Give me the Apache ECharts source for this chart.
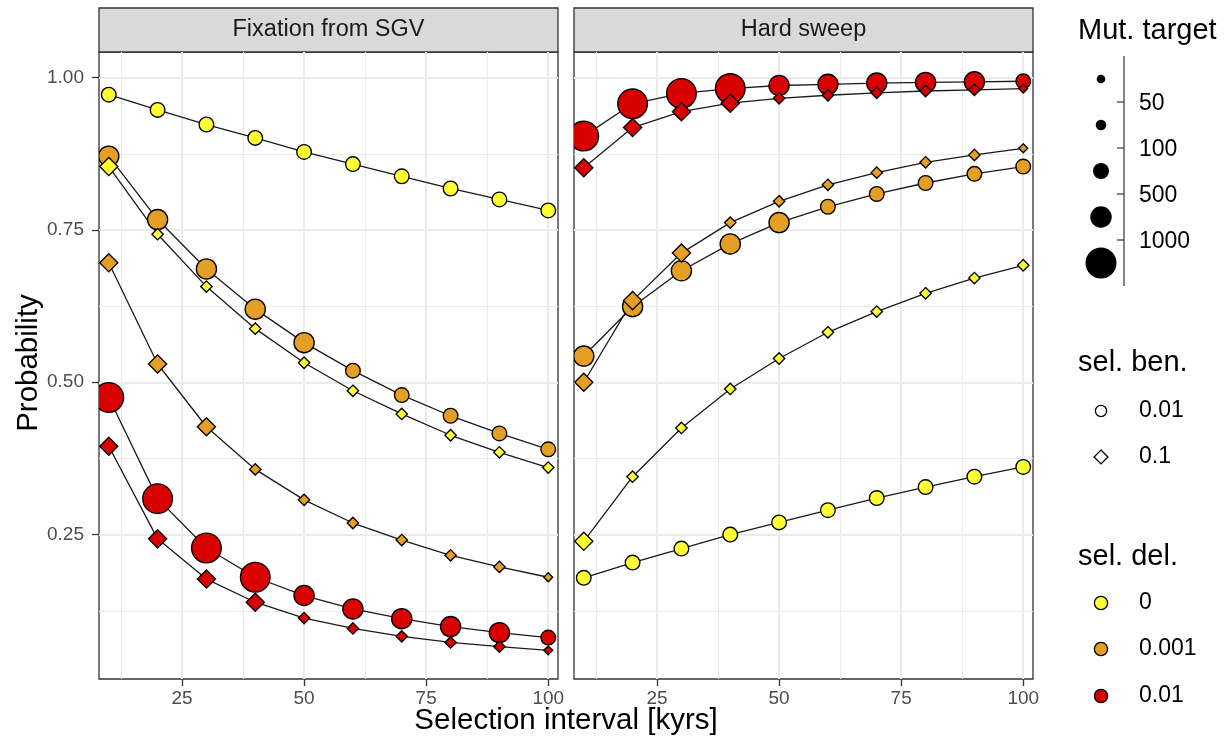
<!DOCTYPE html>
<html>
<head>
<meta charset="utf-8">
<script src="https://cdn.jsdelivr.net/npm/echarts@6/dist/echarts.min.js"></script>
<style>
html, body { margin: 0; padding: 0; background: #fff; }
#main { width: 1225px; height: 747px; }
</style>
</head>
<body>
<div id="main"></div>
<script>
var interval = [10, 20, 30, 40, 50, 60, 70, 80, 90, 100];

// Fixation from SGV
var sgv_del0_ben001   = [0.972, 0.947, 0.923, 0.901, 0.878, 0.858, 0.838, 0.818, 0.800, 0.782];
var sgv_del0_ben01    = [0.854, 0.743, 0.657, 0.588, 0.532, 0.486, 0.448, 0.413, 0.385, 0.360];
var sgv_del001_ben001 = [0.871, 0.767, 0.686, 0.620, 0.565, 0.519, 0.479, 0.445, 0.416, 0.390];
var sgv_del001_ben01  = [0.696, 0.530, 0.427, 0.357, 0.307, 0.269, 0.241, 0.216, 0.197, 0.180];
var sgv_del01_ben001  = [0.475, 0.309, 0.228, 0.180, 0.150, 0.128, 0.112, 0.099, 0.089, 0.081];
var sgv_del01_ben01   = [0.395, 0.243, 0.177, 0.139, 0.113, 0.096, 0.083, 0.073, 0.066, 0.060];

// Hard sweep
var hard_del0_ben001   = [0.179, 0.204, 0.227, 0.250, 0.270, 0.290, 0.310, 0.328, 0.345, 0.361];
var hard_del0_ben01    = [0.239, 0.345, 0.425, 0.489, 0.539, 0.582, 0.616, 0.646, 0.671, 0.692];
var hard_del001_ben001 = [0.543, 0.624, 0.683, 0.727, 0.762, 0.788, 0.809, 0.827, 0.842, 0.854];
var hard_del001_ben01  = [0.500, 0.634, 0.712, 0.762, 0.797, 0.824, 0.844, 0.861, 0.873, 0.884];
var hard_del01_ben001  = [0.904, 0.957, 0.974, 0.982, 0.987, 0.989, 0.991, 0.992, 0.993, 0.994];
var hard_del01_ben01   = [0.852, 0.918, 0.944, 0.958, 0.966, 0.971, 0.975, 0.978, 0.980, 0.982];

// mutational target bin of each point: 1 <50, 2 50-100, 3 100-500, 4 500-1000, 5 >1000
var target_del0_ben001   = [3, 3, 3, 3, 3, 3, 3, 3, 3, 3];
var target_del0_ben01    = [3, 2, 2, 2, 2, 2, 2, 2, 2, 2];
var target_del001_ben001 = [4, 4, 4, 4, 4, 3, 3, 3, 3, 3];
var target_del001_ben01  = [3, 3, 3, 2, 2, 2, 2, 2, 2, 1];
var target_del01_ben001  = [5, 5, 5, 5, 4, 4, 4, 4, 4, 3];
var target_del01_ben01   = [3, 3, 3, 3, 2, 2, 2, 2, 2, 1];

var panelNames = ['Fixation from SGV', 'Hard sweep'];
var targetLabels = ['50', '100', '500', '1000'];
var benLabels = ['0.01', '0.1'];
var delLabels = ['0', '0.001', '0.01'];
var xTicks = [25, 50, 75, 100];
var xMinor = [12.5, 37.5, 62.5, 87.5];
var yTicks = [0.25, 0.50, 0.75, 1.00];
var yMinor = [0.125, 0.375, 0.625, 0.875];

var FONT = '"Liberation Sans", Arial, Helvetica, sans-serif';
var delColors = ['#FFFF33', '#E69F25', '#D90000'];
var binDiam = [0, 8.6, 10.6, 16, 21.5, 31];   // circle diameter per bin, px

// circles drawn first, diamonds on top
var groups = [
    {del: 0, shape: 'circle',  sgv: sgv_del0_ben001,   hard: hard_del0_ben001,   target: target_del0_ben001},
    {del: 1, shape: 'circle',  sgv: sgv_del001_ben001, hard: hard_del001_ben001, target: target_del001_ben001},
    {del: 2, shape: 'circle',  sgv: sgv_del01_ben001,  hard: hard_del01_ben001,  target: target_del01_ben001},
    {del: 0, shape: 'diamond', sgv: sgv_del0_ben01,    hard: hard_del0_ben01,    target: target_del0_ben01},
    {del: 1, shape: 'diamond', sgv: sgv_del001_ben01,  hard: hard_del001_ben01,  target: target_del001_ben01},
    {del: 2, shape: 'diamond', sgv: sgv_del01_ben01,   hard: hard_del01_ben01,   target: target_del01_ben01}
];

var gridLeft = [99, 574];
var gridTop = 52, gridW = 459, gridH = 627;

function markShape(shape, cx, cy, d, fill, lw) {
    var style = {fill: fill, stroke: '#000', lineWidth: lw};
    if (shape === 'circle') {
        return {type: 'circle', shape: {cx: cx, cy: cy, r: (d - lw) / 2}, style: style};
    }
    var h = d * 1.2533 / 2 - lw * 0.7;
    return {type: 'polygon', shape: {points: [[cx, cy - h], [cx + h, cy], [cx, cy + h], [cx - h, cy]]}, style: style};
}

var grids = [], xAxes = [], yAxes = [], series = [];
for (var gi = 0; gi < 2; gi++) {
    grids.push({left: gridLeft[gi], top: gridTop, width: gridW, height: gridH,
        show: true, backgroundColor: '#fff', borderColor: '#333', borderWidth: 1.3});
    xAxes.push({
        type: 'value', gridIndex: gi, min: 8, max: 102,
        axisLine: {show: false},
        axisTick: {show: true, length: 7, customValues: xTicks, lineStyle: {color: '#333', width: 1.3}},
        axisLabel: {customValues: xTicks, color: '#4D4D4D', fontSize: 19, fontFamily: FONT, margin: 10},
        splitLine: {show: true, lineStyle: {color: '#EBEBEB', width: 2}}
    });
    xAxes.push({
        type: 'value', gridIndex: gi, min: 8, max: 102,
        axisLine: {show: false},
        axisTick: {show: false, customValues: xMinor},
        axisLabel: {show: false, customValues: xMinor},
        splitLine: {show: true, lineStyle: {color: '#EBEBEB', width: 1.1}}
    });
    yAxes.push({
        type: 'value', gridIndex: gi, min: 0.013, max: 1.042,
        axisLine: {show: false},
        axisTick: {show: gi === 0, length: 7, customValues: yTicks, lineStyle: {color: '#333', width: 1.3}},
        axisLabel: {show: gi === 0, customValues: yTicks, color: '#4D4D4D', fontSize: 19, fontFamily: FONT, margin: 15,
            formatter: function (v) { return v.toFixed(2); }},
        splitLine: {show: true, lineStyle: {color: '#EBEBEB', width: 2}}
    });
    yAxes.push({
        type: 'value', gridIndex: gi, min: 0.013, max: 1.042,
        axisLine: {show: false},
        axisTick: {show: false, customValues: yMinor},
        axisLabel: {show: false, customValues: yMinor},
        splitLine: {show: true, lineStyle: {color: '#EBEBEB', width: 1.1}}
    });
}

groups.forEach(function (g) {
    for (var gi = 0; gi < 2; gi++) {
        var vals = gi === 0 ? g.sgv : g.hard;
        var data = interval.map(function (x, i) { return [x, vals[i], g.target[i]]; });
        series.push({
            type: 'line', xAxisIndex: gi * 2, yAxisIndex: gi * 2, z: 2,
            data: data, symbol: 'none', silent: true,
            lineStyle: {color: '#1A1A1A', width: 1.3}
        });
    }
});
groups.forEach(function (g) {
    for (var gi = 0; gi < 2; gi++) {
        var vals = gi === 0 ? g.sgv : g.hard;
        var data = interval.map(function (x, i) { return [x, vals[i], g.target[i]]; });
        series.push({
            type: 'custom', xAxisIndex: gi * 2, yAxisIndex: gi * 2, z: 3, clip: true,
            data: data, encode: {x: 0, y: 1}, silent: true,
            renderItem: (function (g) {
                return function (params, api) {
                    var p = api.coord([api.value(0), api.value(1)]);
                    return markShape(g.shape, p[0], p[1], binDiam[api.value(2)], delColors[g.del], 1.35);
                };
            })(g)
        });
    }
});

// strips, axis titles and legends
var graphics = [];
for (var gi = 0; gi < 2; gi++) {
    graphics.push({type: 'rect', shape: {x: gridLeft[gi], y: 8, width: gridW, height: 44},
        style: {fill: '#D9D9D9', stroke: '#333', lineWidth: 1.3}});
    graphics.push({type: 'text', x: gridLeft[gi] + gridW / 2, y: 30,
        style: {text: panelNames[gi], align: 'center', verticalAlign: 'middle', fill: '#1A1A1A', font: '23.5px ' + FONT}});
}
graphics.push({type: 'text', x: 566, y: 721,
    style: {text: 'Selection interval [kyrs]', align: 'center', verticalAlign: 'middle', fill: '#000', font: '29.5px ' + FONT}});
graphics.push({type: 'text', x: 29, y: 363, rotation: Math.PI / 2,
    style: {text: 'Probability', align: 'center', verticalAlign: 'middle', fill: '#000', font: '29.5px ' + FONT}});

var legX = 1101, legLabelX = 1139, legTitleX = 1078;
function legTitle(t, y) {
    graphics.push({type: 'text', x: legTitleX, y: y,
        style: {text: t, align: 'left', verticalAlign: 'middle', fill: '#000', font: '29px ' + FONT}});
}
function legText(t, y) {
    graphics.push({type: 'text', x: legLabelX, y: y,
        style: {text: t, align: 'left', verticalAlign: 'middle', fill: '#000', font: '23px ' + FONT}});
}

// Mut. target (binned size)
legTitle('Mut. target', 31);
var binY = [79, 125, 171, 217, 263];
for (var b = 1; b <= 5; b++) {
    graphics.push({type: 'circle', shape: {cx: legX, cy: binY[b - 1], r: binDiam[b] / 2}, style: {fill: '#000'}});
}
graphics.push({type: 'line', shape: {x1: 1124, y1: 56, x2: 1124, y2: 286}, style: {stroke: '#333', lineWidth: 1.2}});
targetLabels.forEach(function (t, i) {
    var y = (binY[i] + binY[i + 1]) / 2;
    graphics.push({type: 'line', shape: {x1: 1117, y1: y, x2: 1124, y2: y}, style: {stroke: '#333', lineWidth: 1.2}});
    legText(t, y + 2);
});

// sel. ben. (shape)
legTitle('sel. ben.', 363);
var benY = [411, 457];
benLabels.forEach(function (t, i) {
    graphics.push(markShape(i === 0 ? 'circle' : 'diamond', legX, benY[i], 12.5, '#fff', 1.3));
    legText(t, benY[i]);
});

// sel. del. (fill)
legTitle('sel. del.', 557);
var delY = [603, 649, 696];
delLabels.forEach(function (t, i) {
    graphics.push(markShape('circle', legX, delY[i], 14.5, delColors[i], 1.3));
    legText(t, delY[i]);
});

var chart = echarts.init(document.getElementById('main'), null, {renderer: 'canvas'});
chart.setOption({
    backgroundColor: '#fff',
    animation: false,
    textStyle: {fontFamily: FONT},
    grid: grids,
    xAxis: xAxes,
    yAxis: yAxes,
    series: series,
    graphic: {elements: graphics}
});
</script>
</body>
</html>
